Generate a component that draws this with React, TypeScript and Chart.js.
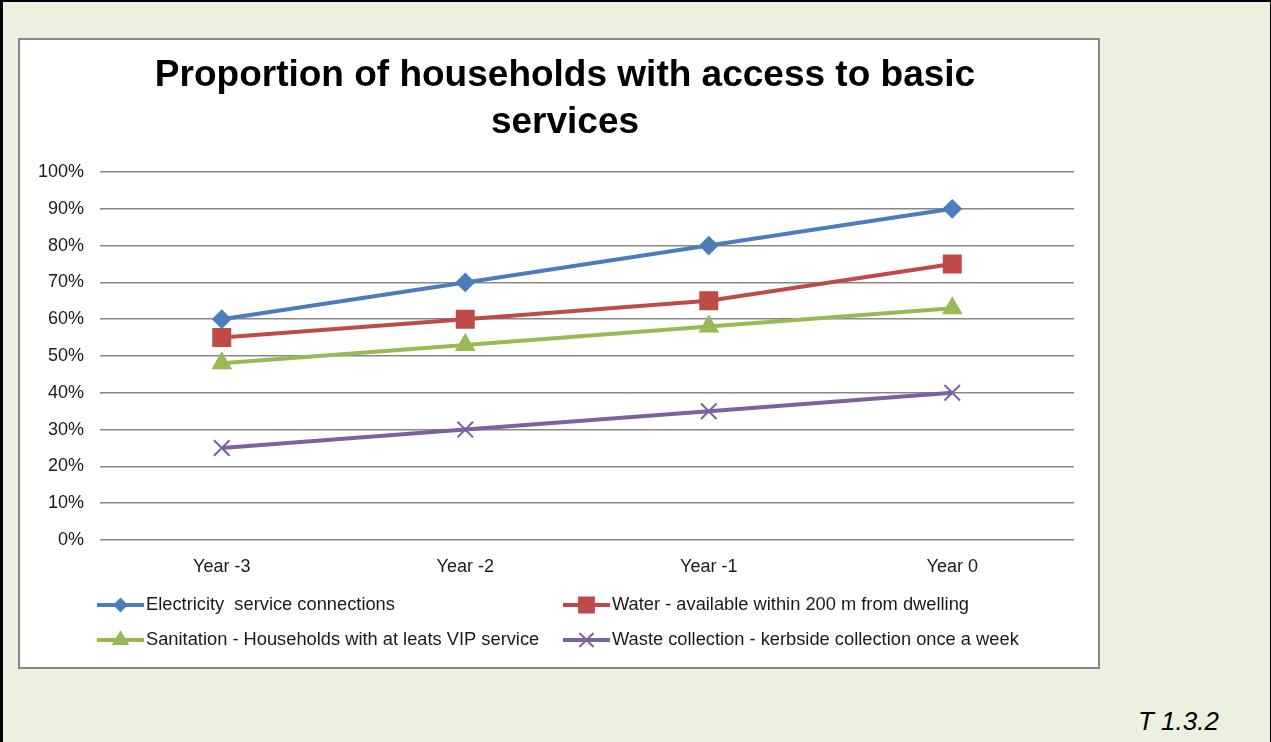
import React, { useEffect, useRef } from "react";
import { Chart, registerables } from "chart.js";
import { drawPoint } from "chart.js/helpers";

Chart.register(...registerables);

const categories = ["Year -3", "Year -2", "Year -1", "Year 0"];
const electricity = [60, 70, 80, 90];
const water = [55, 60, 65, 75];
const sanitation = [48, 53, 58, 63];
const waste = [25, 30, 35, 40];
const seriesLabels = [
  "Electricity  service connections",
  "Water - available within 200 m from dwelling",
  "Sanitation - Households with at leats VIP service",
  "Waste collection - kerbside collection once a week",
];
const titleLines = ["Proportion of households with access to basic", "services"];
const footnote = "T 1.3.2";

const FONT = '"Liberation Sans", Arial, sans-serif';

const gridLegend = {
  id: "gridLegend",
  afterDraw(chart: any) {
    const { ctx } = chart;
    const colX = [77, 543];
    const rowY = [565, 600];
    chart.data.datasets.forEach((ds: any, i: number) => {
      const x = colX[i % 2];
      const y = rowY[Math.floor(i / 2)];
      ctx.save();
      ctx.strokeStyle = ds.borderColor;
      ctx.fillStyle = ds.borderColor;
      ctx.lineWidth = 4;
      ctx.beginPath();
      ctx.moveTo(x, y);
      ctx.lineTo(x + 47, y);
      ctx.stroke();
      ctx.lineWidth = 2;
      drawPoint(ctx, { pointStyle: ds.pointStyle, radius: ds.legendRadius, borderWidth: 2, rotation: 0 } as any, x + 23.5, y);
      ctx.fillStyle = "#1a1a1a";
      ctx.font = `18.3px ${FONT}`;
      ctx.textAlign = "left";
      ctx.textBaseline = "middle";
      ctx.fillText(ds.label, x + 49, y);
      ctx.restore();
    });
  },
};

export default function App() {
  const canvasRef = useRef<HTMLCanvasElement | null>(null);

  useEffect(() => {
    if (!canvasRef.current) return;
    Chart.defaults.font.family = FONT;
    const mk = (label: string, data: number[], color: string, pointStyle: string, radius: number, legendRadius: number) => ({
      label,
      data,
      borderColor: color,
      backgroundColor: color,
      pointBackgroundColor: color,
      pointBorderColor: color,
      pointStyle,
      pointRadius: radius,
      pointBorderWidth: 2,
      borderWidth: 4,
      tension: 0,
      fill: false,
      legendRadius,
    });
    const chart = new Chart(canvasRef.current, {
      type: "line",
      data: {
        labels: categories,
        datasets: [
          mk(seriesLabels[0], electricity, "#4A7EBB", "rectRot", 8.5, 6),
          mk(seriesLabels[1], water, "#BE4B48", "rect", 12, 10.5),
          mk(seriesLabels[2], sanitation, "#98B954", "triangle", 10, 8),
          mk(seriesLabels[3], waste, "#7D60A0", "crossRot", 11, 10),
        ] as any,
      },
      options: {
        responsive: false,
        animation: false,
        layout: { padding: { left: 12, right: 0, top: 0, bottom: 87 } },
        plugins: {
          legend: { display: false },
          tooltip: { enabled: false },
          title: {
            display: true,
            text: titleLines,
            color: "#000",
            font: { size: 37, weight: "bold", family: FONT, lineHeight: 47 / 37 },
            padding: { top: 12.5, bottom: 25.5 },
          },
        },
        scales: {
          x: {
            type: "category",
            offset: true,
            grid: { display: false, drawTicks: false },
            border: { display: false },
            ticks: { color: "#1a1a1a", font: { size: 18 }, padding: 16, maxRotation: 0 },
            afterFit: (s: any) => {
              s.height = 40;
            },
          },
          y: {
            min: 0,
            max: 100,
            grid: { color: "#878787", lineWidth: 1.5, drawTicks: false },
            border: { display: false },
            ticks: {
              stepSize: 10,
              color: "#1a1a1a",
              font: { size: 18 },
              padding: 16,
              callback: (v: any) => `${v}%`,
            },
            afterFit: (s: any) => {
              s.width = 68;
            },
          },
          yRight: {
            position: "right",
            min: 0,
            max: 100,
            grid: { display: false, drawTicks: false },
            border: { display: false },
            ticks: { display: false },
            afterFit: (s: any) => {
              s.width = 24;
            },
          },
        },
      },
      plugins: [gridLegend],
    } as any);
    return () => chart.destroy();
  }, []);

  return (
    <div
      style={{
        position: "fixed",
        left: 0,
        top: 0,
        width: 1271,
        height: 742,
        boxSizing: "border-box",
        background: "#EBF1DE",
        borderTop: "2px solid #000",
        borderLeft: "3px solid #000",
        borderRight: "1px solid #000",
      }}
    >
      <div
        style={{
          position: "fixed",
          left: 18,
          top: 38,
          width: 1082,
          height: 631,
          boxSizing: "border-box",
          border: "2px solid #878787",
          background: "#fff",
        }}
      >
        <canvas ref={canvasRef} width={1078} height={627} style={{ display: "block" }} />
      </div>
      <div
        style={{
          position: "fixed",
          left: 1138,
          top: 706,
          fontFamily: FONT,
          fontStyle: "italic",
          fontSize: 26,
          lineHeight: "30px",
          color: "#000",
        }}
      >
        {footnote}
      </div>
    </div>
  );
}
